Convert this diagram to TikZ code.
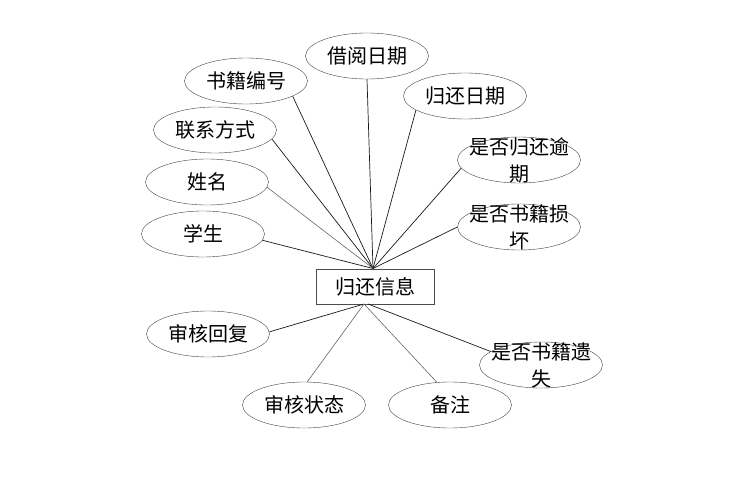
\documentclass[tikz,border=0pt]{standalone}
\usepackage{fontspec}
\newfontfamily\cjk{Noto Sans CJK SC}
\usetikzlibrary{shapes.geometric,calc}

\begin{document}
\begin{tikzpicture}[x=1pt,y=-1pt,font=\cjk\fontsize{20}{27}\selectfont,
  attr/.style={draw=black!75,ellipse,minimum width=123pt,minimum height=46pt,inner sep=0pt},
  twoline/.style={label={[align=center,inner sep=0pt]center:#1}},
  entity/.style={draw=black!70,rectangle,minimum width=118pt,minimum height=35pt,inner sep=0pt},
  link/.style={black!90,line width=0.7pt},
  faint/.style={black!60,line width=0.6pt}]

  % -- FRAME ---------------------------------------------------------
  \useasboundingbox (0,0) rectangle (747,479);

  % -- ENTITY --------------------------------------------------------
  \node[entity] (info) at (375,286.5) {归还信息};
  \coordinate (top) at (373,268.5);   % upper meeting point
  \coordinate (bot) at (364,304);     % lower meeting point
  \coordinate (bot2) at (368,304);

  % -- ATTRIBUTES (upper fan) ----------------------------------------
  \node[attr] (borrow) at (367,56)  {借阅日期};
  \node[attr] (bookno) at (246,81)  {书籍编号};
  \node[attr] (retdate) at (465,96) {归还日期};
  \node[attr] (contact) at (215,130) {联系方式};
  \node[attr,twoline={是否归还逾\\期}] (overdue) at (519,160) {};
  \node[attr] (name) at (207,182) {姓名};
  \node[attr,twoline={是否书籍损\\坏}] (damaged) at (519,227) {};
  \node[attr] (student) at (203,234) {学生};

  % -- ATTRIBUTES (lower fan) ----------------------------------------
  \node[attr] (reply) at (208,334) {审核回复};
  \node[attr,twoline={是否书籍遗\\失}] (lost) at (541,365) {};
  \node[attr] (status) at (304,405) {审核状态};
  \node[attr] (note) at (450,405) {备注};

  % -- LINKS ---------------------------------------------------------
  \foreach \a/\ang in {borrow/-90,bookno/-18,retdate/-164,contact/-9,
                       overdue/-172,damaged/180,student/-6}
    \draw[link] (\a.\ang) -- (top);
  \draw[faint] (name.-5) -- (top);

  \draw[link] (reply.2) -- (bot);
  \draw[faint] (status.82) -- (bot);
  \draw[faint] (note.120) -- (bot);
  \draw[link] (lost.165) -- (bot2);

\end{tikzpicture}
\end{document}
